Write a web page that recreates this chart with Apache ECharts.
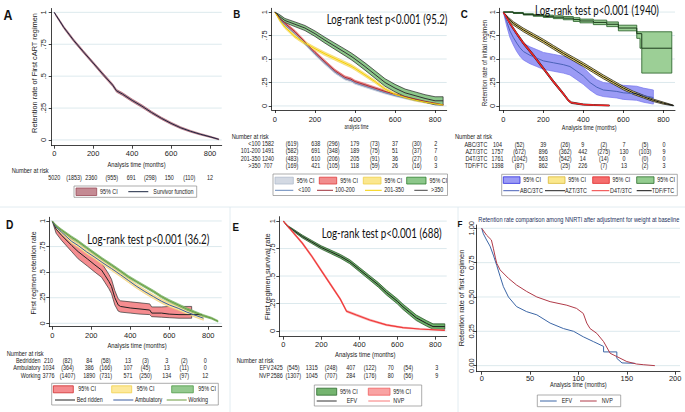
<!DOCTYPE html>
<html><head><meta charset="utf-8">
<script src="https://cdn.jsdelivr.net/npm/echarts@6/dist/echarts.min.js"></script>
<style>html,body{margin:0;padding:0;background:#fff}#c{width:685px;height:412px}</style>
</head><body><div id="c"></div><script>
// ---------- tick labels ----------
const xTicksKM = [0,200,400,600,800];
const xTickLabelsKM = ['0','200','400','600','800'];
const yTicks = [0,0.25,0.5,0.75,1];
const yTickLabels = ['0','.25','.5','.75','1'];
const yTickLabelsF = ['0.00','0.25','0.50','0.75','1.00'];
const xTicksF = [0,50,100,150,200];
const xTickLabelsF = ['0','50','100','150','200'];

// ---------- Panel A ----------
const tA = [0,10,25,50,75,100,150,200,250,300,320,350,400,450,500,550,600,650,700,750,800,845];
const sA = [1,.975,.94,.88,.83,.78,.69,.603,.515,.43,.385,.36,.31,.265,.215,.17,.13,.095,.068,.045,.025,.005];
const loA = [1,.968,.932,.871,.82,.77,.68,.593,.504,.419,.374,.349,.299,.254,.205,.161,.121,.087,.061,.039,.02,.001];
const hiA = [1,.982,.948,.889,.84,.79,.70,.613,.526,.441,.396,.371,.321,.276,.225,.179,.139,.103,.075,.051,.03,.009];
const riskA = ['5020','(1853)','2360','(955)','691','(298)','150','(110)','12'];

// ---------- Panel B ----------
const tB = [0,25,50,100,150,200,250,300,350,380,400,450,500,550,600,650,700,750,800,840];
const sB1 = [1,.92,.86,.77,.665,.555,.455,.36,.29,.27,.245,.21,.175,.14,.11,.085,.06,.04,.02,.008];
const loB1 = [1,.91,.848,.757,.651,.54,.44,.346,.277,.257,.232,.197,.163,.129,.1,.076,.052,.033,.014,.003];
const hiB1 = [1,.93,.872,.783,.679,.57,.47,.374,.303,.283,.258,.223,.187,.151,.12,.094,.068,.047,.026,.013];
const sB2 = [1,.93,.88,.79,.68,.57,.47,.375,.305,.285,.26,.225,.19,.155,.125,.1,.075,.05,.03,.012];
const loB2 = [1,.918,.866,.775,.665,.554,.454,.36,.29,.27,.246,.211,.177,.143,.114,.09,.066,.042,.023,.006];
const hiB2 = [1,.942,.894,.805,.695,.586,.486,.39,.32,.30,.274,.239,.203,.167,.136,.11,.084,.058,.037,.018];
const sB3 = [1,.91,.84,.74,.67,.61,.555,.505,.455,.425,.40,.33,.26,.18,.125,.09,.062,.04,.022,.01];
const loB3 = [1,.897,.825,.724,.653,.593,.537,.487,.437,.407,.382,.313,.244,.166,.113,.08,.053,.033,.016,.005];
const hiB3 = [1,.923,.855,.756,.687,.627,.573,.523,.473,.443,.418,.347,.276,.194,.137,.1,.071,.047,.028,.015];
const sB4 = [1,.95,.91,.87,.83,.77,.70,.635,.57,.53,.50,.42,.335,.25,.19,.14,.11,.08,.055,.055];
const loB4 = [1,.93,.888,.845,.803,.741,.669,.602,.535,.494,.463,.381,.295,.21,.15,.1,.07,.04,.012,.012];
const hiB4 = [1,.97,.932,.895,.857,.799,.731,.668,.605,.566,.537,.459,.375,.29,.23,.18,.15,.12,.098,.098];
const riskBLabels = ['<100','101-200','201-350','>350'];
const riskB = [
  ['1582','(619)','638','(296)','179','(73)','37','(30)','2'],
  ['1491','(582)','691','(348)','189','(75)','51','(37)','7'],
  ['1240','(483)','610','(206)','205','(91)','36','(27)','0'],
  ['707','(169)','421','(105)','118','(59)','26','(16)','3']];
const legBLines = ['<100','100-200','201-350','>350'];

// ---------- Panel C ----------
const tCa = [0,17,33,50,67,83,100,133,167,200,250,300,333,367,400,433,467,500,567,600,667,700,750];
const sCa = [1,.9,.8,.73,.67,.62,.58,.54,.51,.48,.46,.44,.42,.37,.32,.25,.2,.17,.155,.14,.13,.11,.09];
const loCa = [1,.85,.73,.65,.58,.53,.49,.45,.42,.39,.37,.35,.33,.28,.23,.17,.12,.1,.085,.07,.06,.04,.02];
const hiCa = [1,.95,.87,.81,.76,.71,.67,.63,.6,.57,.55,.53,.51,.46,.41,.34,.28,.25,.23,.22,.21,.19,.17];
const tCz = [0,25,50,100,150,200,250,300,350,400,450,500,550,600,650,700,750,800,850];
const sCz = [1,.93,.88,.81,.75,.69,.625,.56,.50,.44,.375,.31,.25,.19,.14,.10,.06,.03,.005];
const loCz = [1,.915,.862,.791,.73,.67,.605,.54,.48,.42,.355,.29,.231,.172,.123,.085,.047,.019,.001];
const hiCz = [1,.945,.898,.829,.77,.71,.645,.58,.52,.46,.395,.33,.269,.208,.157,.115,.073,.041,.009];
const tCd = [0,33,67,100,150,200,250,300,325,340,400,450,530];
const sCd = [1,.88,.77,.67,.54,.40,.26,.13,.06,.035,.015,.01,.005];
const loCd = [1,.87,.758,.657,.527,.387,.247,.118,.05,.027,.009,.005,.001];
const hiCd = [1,.89,.782,.683,.553,.413,.273,.142,.07,.043,.021,.015,.009];
const tCt = [0,50,100,150,200,250,300,350,383,450,517,575,667,683,692,842];
const sCt = [1,.99,.975,.965,.955,.945,.935,.92,.905,.89,.87,.83,.77,.77,.615,.615];
const loCt = [1,.985,.968,.955,.943,.93,.918,.9,.885,.866,.845,.8,.72,.615,.35,.35];
const hiCt = [1,.995,.982,.975,.967,.96,.952,.94,.925,.914,.895,.86,.79,.79,.79,.79];
const riskCLabels = ['ABC/3TC','AZT/3TC','D4T/3TC','TDF/FTC'];
const riskC = [
  ['104','(52)','39','(26)','9','(2)','7','(5)','0'],
  ['1757','(672)','896','(362)','442','(275)','130','(103)','9'],
  ['1761','(1042)','563','(542)','14','(14)','0','(0)','0'],
  ['1398','(87)','862','(25)','226','(7)','13','(2)','3']];

// ---------- Panel D ----------
const tDw = [0,20,48,100,133,175,219,260,304,350,390,430,475,520,561,600,646,690,732,775,817,850];
const sDw = [1,.95,.91,.84,.80,.74,.68,.625,.57,.51,.456,.41,.36,.31,.26,.22,.18,.14,.107,.075,.05,.02];
const loDw = [1,.94,.899,.828,.788,.728,.668,.613,.558,.498,.444,.398,.348,.298,.248,.208,.168,.128,.096,.065,.041,.012];
const hiDw = [1,.96,.921,.852,.812,.752,.692,.637,.582,.522,.468,.422,.372,.322,.272,.232,.192,.152,.118,.085,.059,.028];
const tDa = [0,20,48,100,133,175,219,260,304,350,390,430,475,520,561,600,646,690,732,775];
const sDa = [1,.94,.89,.80,.76,.70,.645,.59,.535,.475,.42,.365,.31,.26,.215,.18,.147,.11,.08,.05];
const loDa = [1,.925,.872,.78,.74,.68,.625,.57,.515,.455,.4,.345,.29,.24,.195,.16,.127,.09,.06,.03];
const hiDa = [1,.955,.908,.82,.78,.72,.665,.61,.555,.495,.44,.385,.33,.28,.235,.2,.167,.13,.1,.07];
const tDb = [0,20,48,100,133,180,219,253,270,290,304,321,338,350,400,450,500,510,560,600,650,715,766];
const sDb = [1,.92,.86,.76,.70,.63,.57,.52,.47,.41,.36,.25,.18,.165,.15,.14,.13,.10,.10,.09,.085,.085,.085];
const tDbBand = [0,20,48,100,133,180,219,253,270,290,304,321,338,350,400,450,500,510,560,600,650,715];
const loDb = [1,.88,.81,.70,.63,.56,.50,.45,.40,.34,.29,.18,.12,.11,.10,.09,.085,.065,.06,.055,.05,.05];
const hiDb = [1,.96,.91,.82,.77,.70,.64,.59,.54,.48,.43,.32,.24,.22,.21,.20,.19,.16,.16,.165,.165,.165];
const riskDLabels = ['Bedridden','Ambulatory','Working'];
const riskD = [
  ['210','(82)','84','(58)','13','(3)','3','(2)','0'],
  ['1034','(364)','386','(166)','107','(45)','13','(11)','0'],
  ['3776','(1407)','1890','(731)','571','(250)','134','(97)','12']];

// ---------- Panel E ----------
const tEe = [0,25,50,100,150,200,250,300,350,400,450,500,543,600,630,665,700,753,788,850];
const sEe = [1,.95,.92,.86,.81,.76,.72,.68,.63,.56,.49,.42,.35,.27,.22,.17,.12,.07,.04,.04];
const loEe = [1,.943,.91,.847,.796,.745,.704,.663,.612,.541,.47,.399,.328,.247,.196,.145,.095,.045,.015,.015];
const hiEe = [1,.957,.93,.873,.824,.775,.736,.697,.648,.579,.51,.441,.372,.293,.244,.195,.145,.095,.065,.065];
const tEn = [0,50,100,150,200,250,300,333,385,455,543,630,718,850];
const sEn = [1,.9,.8,.68,.55,.42,.29,.18,.145,.10,.055,.03,.018,.006];
const loEn = [1,.891,.79,.669,.539,.409,.28,.171,.136,.092,.048,.024,.013,.002];
const hiEn = [1,.909,.81,.691,.561,.431,.30,.189,.154,.108,.062,.036,.023,.01];
const riskELabels = ['EFV','NVP'];
const riskE = [
  ['2425','(545)','1315','(248)','407','(122)','70','(54)','3'],
  ['2586','(1307)','1045','(707)','284','(176)','80','(56)','9']];

// ---------- Panel F ----------
const tFe = [0,1.7,5,8.6,12,15.5,19,22.4,27.6,36,46.5,57,70.7,84.5,95,105,115.5,126,126,139.7,139.7,145,158.6];
const sFe = [1,.96,.915,.87,.805,.73,.65,.575,.50,.43,.393,.37,.31,.27,.25,.21,.175,.14,.10,.10,.053,.02,.017];
const tFn = [0,5,10,12,14,15.5,19,27.6,36,46.5,57,70.7,88,98,105,108.6,112,119,126,132.8,139.7,150,160,167,179];
const sFn = [1,.95,.915,.855,.79,.745,.697,.636,.587,.54,.50,.466,.44,.417,.38,.31,.27,.235,.175,.09,.066,.03,.012,.007,0];

// ================= layout / rendering =================
const GR = [
  {l:51.7, t:8.5,  w:170,   h:137.2, xmin:-13, xmax:860, ymin:-0.045, ymax:1.03,  xm:4, ym:4},
  {l:271.7,t:8.3,  w:175,   h:101.7, xmin:-16, xmax:858, ymin:-0.043, ymax:1.04,  xm:5, ym:3},
  {l:499.3,t:8.3,  w:175.7, h:101.7, xmin:-20, xmax:858, ymin:-0.043, ymax:1.04,  xm:5, ym:2.5},
  {l:49.3, t:217.3,w:172.4, h:109.4, xmin:-15, xmax:869, ymin:-0.033, ymax:1.036, xm:5, ym:2.5},
  {l:279.3,t:216.7,w:167.4, h:120,   xmin:-21, xmax:860, ymin:-0.052, ymax:1.04,  xm:4, ym:2.5},
  {l:476.7,t:225,  w:203.3, h:146.7, xmin:-5.2,xmax:205, ymin:-0.044, ymax:1.024, xm:3, ym:1.5}
];
const pairs = (t,s)=>t.map((x,i)=>[x,s[i]]);
function band(g,t,lo,hi,fill,stroke,lw,step){
  const up=[],dn=[];
  for(let i=0;i<t.length;i++){
    if(step&&i>0){up.push([t[i],hi[i-1]]);dn.push([t[i],lo[i-1]]);}
    up.push([t[i],hi[i]]);dn.push([t[i],lo[i]]);
  }
  const poly=up.concat(dn.reverse());
  return {type:'custom',xAxisIndex:g,yAxisIndex:g,silent:true,clip:false,animation:false,z:1,
    data:t.map((x,i)=>[x,lo[i],hi[i]]),
    renderItem:(p,api)=>{ if(p.dataIndex!==0) return null;
      return {type:'polygon',shape:{points:poly.map(q=>api.coord(q))},style:{fill:fill,stroke:stroke||'none',lineWidth:lw||0.7}}; }};
}
function line(g,t,s,color,w,step){
  return {type:'line',xAxisIndex:g,yAxisIndex:g,data:pairs(t,s),symbol:'none',showSymbol:false,silent:true,
    animation:false,z:2,step:step?'end':false,lineStyle:{color:color,width:w||1}};
}
function gridLines(g){
  return {type:'custom',xAxisIndex:g,yAxisIndex:g,silent:true,clip:false,animation:false,z:0,
    data:yTicks.map(v=>[0,v]),
    renderItem:(p,api)=>{ const cs=p.coordSys; const y=api.coord([0,api.value(1)])[1];
      return {type:'line',shape:{x1:cs.x,y1:y,x2:cs.x+cs.width,y2:y},style:{stroke:'#d3e3e9',lineWidth:0.8}}; }};
}
const grids=GR.map(g=>({left:g.l,top:g.t,width:g.w,height:g.h,containLabel:false}));
const xAxes=GR.map((g,i)=>{
  const tk=i===5?xTicksF:xTicksKM, lb=i===5?xTickLabelsF:xTickLabelsKM;
  return {type:'value',gridIndex:i,min:g.xmin,max:g.xmax,
    axisLine:{show:true,onZero:false,lineStyle:{color:'#111',width:0.8}},
    axisTick:{show:true,customValues:tk,length:3,lineStyle:{color:'#111',width:0.8}},
    axisLabel:{show:true,customValues:tk,formatter:v=>lb[tk.indexOf(v)],fontSize:7.5,fontFamily:'Liberation Sans',color:'#222',margin:g.xm},
    splitLine:{show:false}};
});
const yAxes=GR.map((g,i)=>{
  const lb=i===5?yTickLabelsF:yTickLabels;
  return {type:'value',gridIndex:i,min:g.ymin,max:g.ymax,
    axisLine:{show:true,onZero:false,lineStyle:{color:'#111',width:0.8}},
    axisTick:{show:true,customValues:yTicks,length:3,lineStyle:{color:'#111',width:0.8}},
    axisLabel:{show:true,customValues:yTicks,rotate:90,formatter:v=>lb[yTicks.indexOf(v)],fontSize:7.5,fontFamily:'Liberation Sans',color:'#222',margin:g.ym},
    splitLine:{show:false}};
});
const series=[];
for(let i=0;i<6;i++) series.push(gridLines(i));
// A
series.push(band(0,tA,loA,hiA,'#c48a93','#a25868',0.6));
series.push(line(0,tA,sA,'#1b2541',1));
// B
series.push(band(1,tB,loB1,hiB1,'#d3d9e3','#b8c2d2',0.6));
series.push(band(1,tB,loB2,hiB2,'#f18d8d','#e35858',0.6));
series.push(band(1,tB,loB3,hiB3,'#fbe78e','#f0d050',0.6));
series.push(band(1,tB,loB4,hiB4,'#8cc78a','#222',0.7));
series.push(line(1,tB,sB1,'#6688bb',1));
series.push(line(1,tB,sB2,'#9e2f3a',1));
series.push(line(1,tB,sB3,'#f5d000',1));
series.push(line(1,tB,sB4,'#333',1));
// C
series.push(band(2,tCa,loCa,hiCa,'#9b9bf5','#7474ee',0.7));
series.push(band(2,tCz,loCz,hiCz,'#f3dc6a','#222',0.8));
series.push(band(2,tCd,loCd,hiCd,'#f35555','#111',0.8));
series.push(band(2,tCt,loCt,hiCt,'#9ccf96','#1f5a1f',0.8,true));
series.push(line(2,tCa,sCa,'#4b62b8',1));
series.push(line(2,tCz,sCz,'#111',1));
series.push(line(2,tCd,sCd,'#ee2222',1.4));
series.push(line(2,tCt,sCt,'#1a3a1a',1,true));
// D
series.push(band(3,tDbBand,loDb,hiDb,'#f58c8f','#333',0.7));
series.push(band(3,tDa,loDa,hiDa,'#fbe6a0','#efc870',0.6));
series.push(band(3,tDw,loDw,hiDw,'#9bcb8f','#6aaa55',0.6));
series.push(line(3,tDb,sDb,'#222',1));
series.push(line(3,tDa,sDa,'#3a5da0',1));
series.push(line(3,tDw,sDw,'#6a9a3c',1));
// E
series.push(band(4,tEe,loEe,hiEe,'#6daf69','#1e4a1e',0.7));
series.push(band(4,tEn,loEn,hiEn,'#f8a4a4','#f7a0a0',0.6));
series.push(line(4,tEe,sEe,'#1c1c1c',1));
series.push(line(4,tEn,sEn,'#f03a3a',1.2));
// F
series.push(line(5,tFe,sFe,'#3c66a6',1));
series.push(line(5,tFn,sFn,'#b03a48',1));

// ---------- graphic text helpers ----------
const cv=document.createElement('canvas').getContext('2d');
function measure(text,font){cv.font=font;return cv.measureText(text).width;}
function txt(text,x,y,o){
  o=o||{};
  const size=o.size||6.6, fam=o.family||'Liberation Sans', wt=o.weight||'normal';
  const font=wt+' '+size+'px "'+fam+'"';
  let sx=(o.sx!=null)?o.sx:0.82;
  if(o.w) sx=o.w/measure(text,font);
  const al=o.align||'left';
  return {type:'text',x:x,y:y,rotation:o.rot||0,scaleX:sx,silent:true,z:100,
    style:{text:text,font:font,fill:o.color||'#222',align:al,textAlign:al,verticalAlign:'middle',textVerticalAlign:'middle'}};
}
function rect(x1,y1,x2,y2,fill,stroke,lw){return {type:'rect',silent:true,z:90,shape:{x:x1,y:y1,width:x2-x1,height:y2-y1},style:{fill:fill,stroke:stroke,lineWidth:lw||0.8}};}
function seg(x1,y1,x2,y2,stroke,lw){return {type:'line',silent:true,z:95,shape:{x1:x1,y1:y1,x2:x2,y2:y2},style:{stroke:stroke,lineWidth:lw||1}};}

const G=[];
// panel frames (bottom row)
G.push(seg(0,207,685,207,'#dbe7ee',0.8));
G.push(seg(230,207,230,412,'#dbe7ee',0.8));
G.push(seg(458,207,458,412,'#dbe7ee',0.8));
// panel letters
G.push(txt('A',8,15.5,{size:14.5,weight:'bold',sx:0.85,align:'center',color:'#111'}));
G.push(txt('B',236.7,13.5,{size:11.5,weight:'bold',sx:0.85,align:'center',color:'#111'}));
G.push(txt('C',464.2,13.5,{size:11.5,weight:'bold',sx:0.85,align:'center',color:'#111'}));
G.push(txt('D',9.7,225,{size:12,weight:'bold',sx:0.85,align:'center',color:'#111'}));
G.push(txt('E',235.8,226.7,{size:11.5,weight:'bold',sx:0.85,align:'center',color:'#111'}));
G.push(txt('F',460,224,{size:9.5,weight:'bold',sx:0.85,align:'center',color:'#111'}));
// log-rank annotations
G.push(txt('Log-rank test p<0.001 (95.2)',387,19.3,{size:12.5,family:'Lato',w:121,align:'center',color:'#111'}));
G.push(txt('Log-rank test p<0.001 (1940)',597,10.3,{size:12.5,family:'Lato',w:124,align:'center',color:'#111'}));
G.push(txt('Log-rank test p<0.001 (36.2)',148.3,239,{size:12.5,family:'Lato',w:122,align:'center',color:'#111'}));
G.push(txt('Log-rank test p<0.001 (688)',381.7,233.3,{size:12.5,family:'Lato',w:120,align:'center',color:'#111'}));
// F title
G.push(txt('Retention rate comparison among NNRTI after adjustment for weight at baseline',578.8,219.3,{size:7,w:201,align:'center',color:'#1e3160'}));
// axis titles
G.push(txt('Analysis time (months)',136.5,164.3,{size:7,w:58.3,align:'center'}));
G.push(txt('analysis time',356.5,126.7,{size:7,w:24,align:'center'}));
G.push(txt('Analysis time (months)',589.2,127.3,{size:7,w:55,align:'center'}));
G.push(txt('Analysis time (months)',137,345.7,{size:7,w:59.3,align:'center'}));
G.push(txt('Analysis time (months)',365.3,354.3,{size:7,w:60.7,align:'center'}));
G.push(txt('Analysis time (months)',578.3,384.3,{size:7,w:56.7,align:'center'}));
G.push(txt('Retention rate of First cART regimen',35,73,{size:7,w:120,align:'center',rot:Math.PI/2}));
G.push(txt('Retention rate of initial regimen',484.3,63,{size:7,w:86.7,align:'center',rot:Math.PI/2}));
G.push(txt('First regimen retention rate',33.3,273,{size:7,w:83.3,align:'center',rot:Math.PI/2}));
G.push(txt('First regimen survival rate',267.7,276.7,{size:7,w:87,align:'center',rot:Math.PI/2}));
G.push(txt('Retention rate of first regimen',461.7,298,{size:7,w:96.7,align:'center',rot:Math.PI/2}));
// number at risk tables
function riskTable(hx,hy,labelRight,cols,rowsY,labels,rows){
  G.push(txt('Number at risk',hx,hy,{size:6.6,w:37}));
  rows.forEach((r,ri)=>{
    if(labels) G.push(txt(labels[ri],labelRight,rowsY[ri],{align:'right'}));
    r.forEach((v,ci)=>G.push(txt(v,cols[ci],rowsY[ri],{align:'center'})));
  });
}
riskTable(11.7,170,null,[54.3,74,91.3,111.7,131.3,150.3,169.3,189.3,210],[178.3],null,[riskA]);
riskTable(231.7,136,260.5,[268,292,315.7,333.3,354.7,374.7,395,416.7,435.7],[143.8,151.2,158.5,165.8],riskBLabels,riskB);
riskTable(455,136.5,487.3,[497.5,519.5,543.3,565.3,582.7,603.7,624,645,664],[144.5,151.7,158.7,165.8],riskCLabels,riskC);
riskTable(6.7,353.3,40.5,[48.5,67.5,89.3,105.8,128,145.5,166.7,184.2,205.2],[360.7,368.3,375.7],riskDLabels,riskD);
riskTable(236.7,360.7,270,[276.7,293.3,311.7,331,350.7,370,390.7,408.3,436.7],[368.3,376],riskELabels,riskE);
// legends
// A
G.push(rect(74,186,196.7,197.3,'#fff','#8a8a8a',0.7));
G.push(rect(76,188,96.7,195.5,'#c48a93','#9a4a58',0.8));
G.push(txt('95% CI',100,191.7));
G.push(seg(128.3,191.7,148.3,191.7,'#1b2541',1));
G.push(txt('Survivor function',153.3,191.7));
// B
G.push(rect(273,174,447.5,195.5,'#fff','#8a8a8a',0.7));
[[275,293.3,'#d3d9e3','#b1bccd'],[319.3,336.7,'#f18d8d','#e03c3c'],[363.3,381,'#fbe78e','#f0d04a'],[406.7,426,'#8cc78a','#2f7d2f']].forEach((s,i)=>{
  G.push(rect(s[0],177.2,s[1],184,s[2],s[3],0.8));
  G.push(txt('95% CI',s[1]+3.5,180.6));
});
[[275,293.3,'#6688bb',298.3],[317,333,'#9e2f3a',335],[365,381.7,'#f5d000',384.3],[414.3,427.7,'#444',431]].forEach((s,i)=>{
  G.push(seg(s[0],190.3,s[1],190.3,s[2],1));
  G.push(txt(legBLines[i],s[3],190.3));
});
// C
G.push(rect(501.7,174.3,677.3,195.7,'#fff','#8a8a8a',0.7));
[[503.3,520,'#9b9bf5','#2f2fe0'],[548.3,565,'#fbe88d','#d9b93a'],[592.7,609.3,'#f56e6e','#e02a2a'],[636.7,654,'#93cc8f','#2c6e2c']].forEach(s=>{
  G.push(rect(s[0],176.8,s[1],183.4,s[2],s[3],0.8));
  G.push(txt('95% CI',s[1]+3.3,180.1));
});
[[503.3,519.3,'#4b62b8',520],[545,565,'#222',565],[591.7,609.3,'#f03c3c',610],[636.7,651.7,'#111',651.7]].forEach((s,i)=>{
  G.push(seg(s[0],190.7,s[1],190.7,s[2],1));
  G.push(txt(riskCLabels[i],s[3],190.7));
});
// D
G.push(rect(51.7,383.3,218.3,405,'#fff','#8a8a8a',0.7));
[[53.3,73.3,'#f58c8f','#d12b2b'],[111.7,131.7,'#fde99c','#f0cf4a'],[171.7,193.3,'#94c98f','#4e9a46']].forEach(s=>{
  G.push(rect(s[0],385.8,s[1],392.8,s[2],s[3],0.8));
  G.push(txt('95% CI',s[1]+5,389.3));
});
[[55,75,'#222','Bed ridden',76.7],[113.3,133.3,'#3a5da0','Ambulatory',135],[166.7,186.7,'#6a9a3c','Working',188.3]].forEach(s=>{
  G.push(seg(s[0],400,s[1],400,s[2],1));
  G.push(txt(s[3],s[4],400));
});
// E
G.push(rect(314.3,385,421.7,406,'#fff','#8a8a8a',0.7));
G.push(rect(316.7,388.2,336.7,395.2,'#74b46f','#2c6a2c',0.8));
G.push(txt('95% CI',340,391.7));
G.push(rect(368.3,388.2,390,395.2,'#f9a3a3','#f06060',0.8));
G.push(txt('95% CI',393.3,391.7));
G.push(seg(316.7,401,336.7,401,'#333',1));
G.push(txt('EFV',346.7,401));
G.push(seg(368.3,401,390,401,'#f87878',1));
G.push(txt('NVP',393.3,401));
// F
G.push(rect(537.3,395,620.7,406.7,'#fff','#8a8a8a',0.7));
G.push(seg(540,401,556.7,401,'#3c66a6',1));
G.push(txt('EFV',561.7,401));
G.push(seg(580,401,596.7,401,'#b03a48',1));
G.push(txt('NVP',601.7,401));

const chart=echarts.init(document.getElementById('c'),null,{renderer:'svg',width:685,height:412});
chart.setOption({backgroundColor:'#ffffff',animation:false,grid:grids,xAxis:xAxes,yAxis:yAxes,series:series,graphic:{elements:G}});
</script></body></html>
